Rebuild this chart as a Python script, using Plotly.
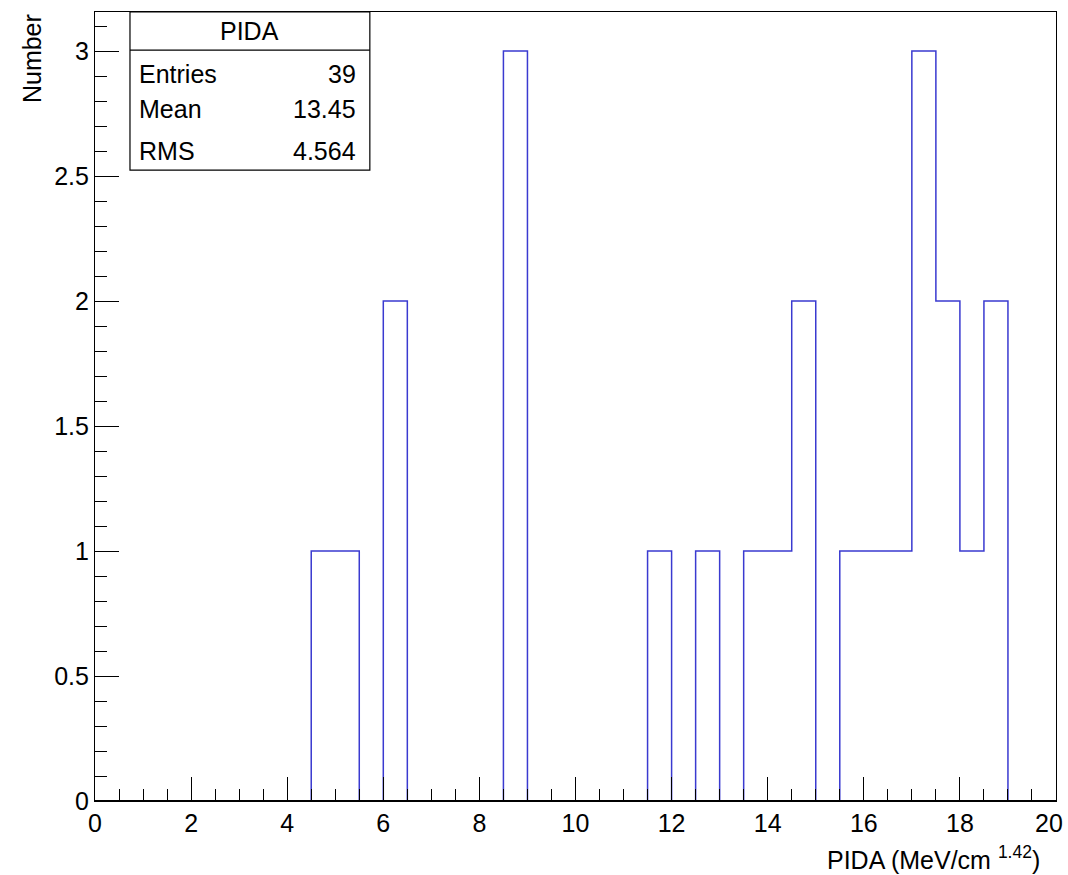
import plotly.graph_objects as go

# bin edges 0..20, width 0.5 (40 bins)
bin_lo = [i * 0.5 for i in range(40)]
counts = [0, 0, 0, 0, 0, 0, 0, 0, 0,   # 0 - 4.5
          1, 1,                        # 4.5 - 5.5
          0,                           # 5.5 - 6
          2,                           # 6 - 6.5
          0, 0, 0, 0,                  # 6.5 - 8.5
          3,                           # 8.5 - 9
          0, 0, 0, 0, 0,               # 9 - 11.5
          1,                           # 11.5 - 12
          0,                           # 12 - 12.5
          1,                           # 12.5 - 13
          0,                           # 13 - 13.5
          1, 1,                        # 13.5 - 14.5
          2,                           # 14.5 - 15
          0,                           # 15 - 15.5
          1, 1, 1,                     # 15.5 - 17
          3,                           # 17 - 17.5
          2,                           # 17.5 - 18
          1,                           # 18 - 18.5
          2,                           # 18.5 - 19
          0, 0]                        # 19 - 20
x_tickvals = [0, 2, 4, 6, 8, 10, 12, 14, 16, 18]
x_ticktext = ["0", "2", "4", "6", "8", "10", "12", "14", "16", "18"]
x_last_label = "20"
y_tickvals = [0, 0.5, 1, 1.5, 2, 2.5, 3]
y_ticktext = ["0", "0.5", "1", "1.5", "2", "2.5", "3"]
stats_labels = ["Entries", "Mean", "RMS"]
stats_values = ["39", "13.45", "4.564"]
hist_title = "PIDA"

xs = bin_lo + [20.0]
ys = counts + [counts[-1]]

FONT = "Liberation Sans, Arial, sans-serif"
FS = 25

fig = go.Figure()
fig.add_trace(go.Scatter(x=xs, y=ys, mode="lines", line=dict(shape="hv", color="#3a3ad0", width=1.5),
                         hoverinfo="skip", showlegend=False))

axis_common = dict(showline=True, linecolor="black", linewidth=1.2, mirror=True,
                   ticks="inside", tickcolor="black", showgrid=False, zeroline=False,
                   layer="above traces", automargin=False,
                   tickfont=dict(family=FONT, size=FS, color="black"))

fig.update_xaxes(range=[0, 20], tickmode="array", tickvals=x_tickvals + [20],
                 ticktext=x_ticktext + [""], ticklen=24,
                 minor=dict(ticks="inside", tickmode="linear", tick0=0, dtick=0.5,
                            ticklen=12, tickcolor="black"),
                 **axis_common)
fig.update_yaxes(range=[0, 3.156], tickmode="array",
                 tickvals=y_tickvals, ticktext=y_ticktext, ticklen=24,
                 minor=dict(ticks="inside", tickmode="linear", tick0=0, dtick=0.1,
                            ticklen=12, tickcolor="black"),
                 **axis_common)

fig.update_layout(width=1068, height=875, margin=dict(l=95, r=12, t=12, b=74),
                  plot_bgcolor="white", paper_bgcolor="white",
                  font=dict(family=FONT, color="black"))

# black baseline drawn over the histogram's zero-level outline
fig.add_shape(type="line", xref="paper", yref="paper", x0=0, x1=1, y0=0, y1=0,
              line=dict(color="black", width=2), layer="above")

# last x tick label, kept inside the page
fig.add_annotation(xref="paper", yref="paper", x=1.0094, y=-0.0285, xanchor="right", yanchor="middle",
                   text=x_last_label, showarrow=False, font=dict(size=FS, family=FONT))

# Stats box
x0, x1 = 0.0364, 0.286
y0, y1, ydiv = 0.7997, 1.0, 0.9518
fig.add_shape(type="rect", xref="paper", yref="paper", x0=x0, x1=x1, y0=y0, y1=y1,
              line=dict(color="black", width=1.2), fillcolor="white")
fig.add_shape(type="line", xref="paper", yref="paper", x0=x0, x1=x1, y0=ydiv, y1=ydiv,
              line=dict(color="black", width=1.2))
fig.add_annotation(xref="paper", yref="paper", x=(x0 + x1) / 2, y=(y1 + ydiv) / 2,
                   text=hist_title, showarrow=False, font=dict(size=FS, family=FONT),
                   xanchor="center", yanchor="middle")
row_y = [0.9214, 0.8774, 0.8242]
for lab, val, yy in zip(stats_labels, stats_values, row_y):
    fig.add_annotation(xref="paper", yref="paper", x=x0 + 0.007, y=yy, text=lab, showarrow=False,
                       font=dict(size=FS, family=FONT), xanchor="left", yanchor="middle")
    fig.add_annotation(xref="paper", yref="paper", x=x1 - 0.012, y=yy, text=val, showarrow=False,
                       font=dict(size=FS, family=FONT), xanchor="right", yanchor="middle")

# Axis titles
fig.add_annotation(xref="paper", yref="paper", x=0.985, y=-0.05, xanchor="right", yanchor="top",
                   text="PIDA (MeV/cm <sup>1.42</sup>)", showarrow=False,
                   font=dict(size=FS, family=FONT))
fig.add_annotation(xref="paper", yref="paper", x=-0.066, y=1.0, xanchor="center", yanchor="top",
                   text="Number", textangle=-90, showarrow=False,
                   font=dict(size=FS, family=FONT))

fig.write_html("out.html")
